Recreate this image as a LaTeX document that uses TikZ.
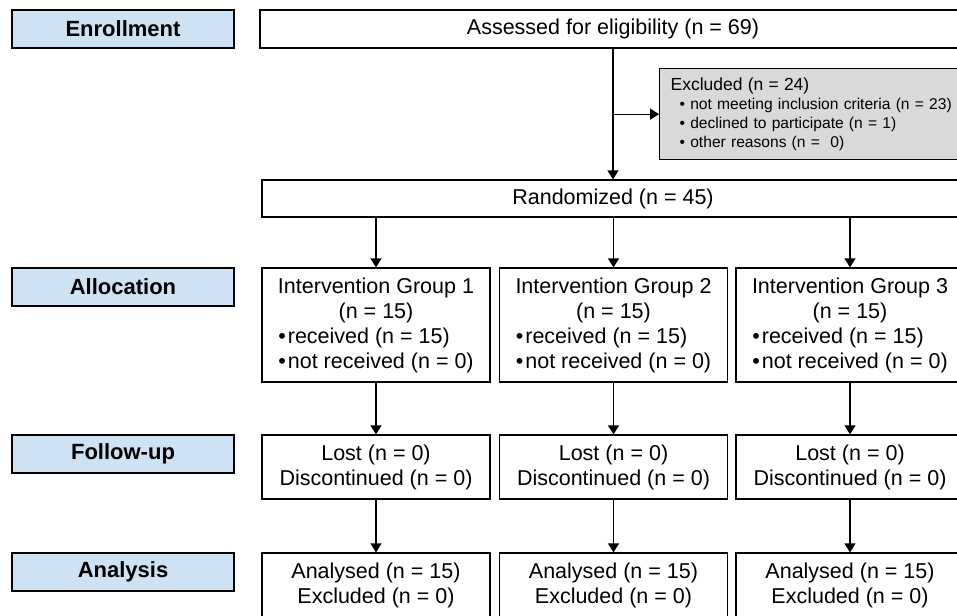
\documentclass[tikz,border=0pt]{standalone}
\usepackage{fontspec}
\usepackage{calc}
\setmainfont{Liberation Sans}
\usetikzlibrary{arrows.meta}
\definecolor{phaseblue}{HTML}{CFE2F3}
\definecolor{exclgray}{HTML}{D9D9D9}
\newcommand{\bulpair}[2]{\makebox[\widthof{#2}][l]{#1}\\#2}
\newcommand{\bl}{•\hspace{2pt}}
\tikzset{
  box/.style={draw=black, line width=1.3pt, rectangle, inner sep=0pt, align=center,
    font=\fontsize{21.5}{25}\selectfont},
  phase/.style={box, fill=phaseblue, minimum width=222pt, minimum height=38pt,
    font=\fontsize{22}{25}\selectfont\bfseries},
  wide/.style={box, minimum height=38pt},
  grp/.style={box, minimum width=228pt, minimum height=114pt},
  fu/.style={box, minimum width=228pt, minimum height=64pt},
  arr/.style={line width=1.3pt, -{Triangle[width=11pt,length=9pt]}},
}
\begin{document}
\begin{tikzpicture}[x=1pt,y=-1pt]
\useasboundingbox (0,0) rectangle (957,615);
\clip (0,0) rectangle (957,615);
\fill[white] (0,0) rectangle (957,615);

% phase labels
\node[phase] (enr) at (123,29) {Enrollment};
\node[phase] (alloc) at (123,287) {Allocation};
\node[phase] (fup) at (123,454) {Follow-up};
\node[phase] (ana) at (123,572) {Analysis};

% enrollment
\node[wide, minimum width=706pt] (assess) at (613,29) {Assessed for eligibility (n = 69)};
\node[wide, minimum width=702pt, minimum height=37pt] (rand) at (613,198.5) {Randomized (n = 45)};
\node[box, fill=exclgray, anchor=north west, minimum height=91pt, text width=300pt,
  align=left, inner xsep=11pt, font=\fontsize{15.6}{19}\selectfont] (excl) at (659,68)
  {{\fontsize{17.5}{19}\selectfont Excluded (n = 24)}\\
   \hspace*{9pt}• not meeting inclusion criteria (n = 23)\\
   \hspace*{9pt}• declined to participate (n = 1)\\
   \hspace*{9pt}• other reasons (n = \ 0)};

% groups
\node[grp] (g1) at (376,325) {Intervention Group 1\\(n = 15)\\\bulpair{\bl received (n = 15)}{\bl not received (n = 0)}};
\node[grp] (g2) at (613.5,325) {Intervention Group 2\\(n = 15)\\\bulpair{\bl received (n = 15)}{\bl not received (n = 0)}};
\node[grp] (g3) at (850,325) {Intervention Group 3\\(n = 15)\\\bulpair{\bl received (n = 15)}{\bl not received (n = 0)}};

\node[fu] (f1) at (376,467) {Lost (n = 0)\\Discontinued (n = 0)};
\node[fu] (f2) at (613.5,467) {Lost (n = 0)\\Discontinued (n = 0)};
\node[fu] (f3) at (850,467) {Lost (n = 0)\\Discontinued (n = 0)};

\node[fu] (a1) at (376,585) {Analysed (n = 15)\\Excluded (n = 0)};
\node[fu] (a2) at (613.5,585) {Analysed (n = 15)\\Excluded (n = 0)};
\node[fu] (a3) at (850,585) {Analysed (n = 15)\\Excluded (n = 0)};

% connectors
\draw[arr] (assess.south) -- (assess.south |- rand.north);
\coordinate (br) at (assess.south |- excl.west);
\draw[arr] (br) -- (excl.west);

\foreach \g in {g1,g2,g3}{
  \draw[arr] (rand.south -| \g.north) -- (\g.north);
}
\draw[arr] (g1.south) -- (f1.north);
\draw[arr] (g2.south) -- (f2.north);
\draw[arr] (g3.south) -- (f3.north);
\draw[arr] (f1.south) -- (a1.north);
\draw[arr] (f2.south) -- (a2.north);
\draw[arr] (f3.south) -- (a3.north);
\end{tikzpicture}
\end{document}
